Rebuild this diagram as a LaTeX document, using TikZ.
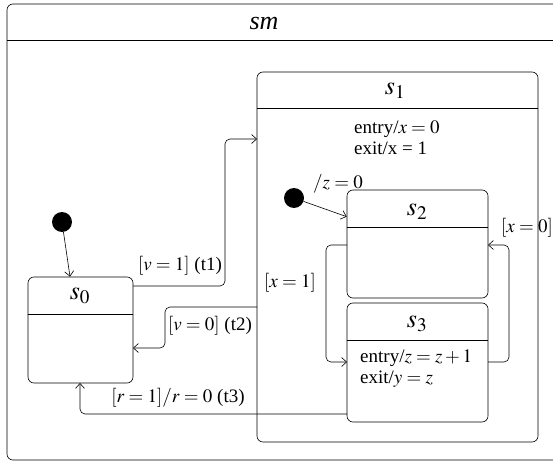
\documentclass[tikz,border=0pt]{standalone}
\usepackage{mathptmx}
\usepackage{fontspec}
\setmainfont{Liberation Serif}
\usetikzlibrary{calc,arrows.meta}
\begin{document}
\begin{tikzpicture}[x=1pt,y=-1pt,
  every node/.style={font=\fontsize{19}{21}\selectfont, inner sep=0pt},
  statebox/.style={draw, rounded corners=6pt, line width=0.6pt},
  sname/.style={font=\fontsize{26}{30}\selectfont},
  initdot/.style={circle, fill=black, minimum size=20pt},
  conn/.style={line width=0.6pt, rounded corners=5pt},
  tip/.style={-{Straight Barb[length=5pt,width=9pt]}}
]
\useasboundingbox (0,0) rectangle (553,462);
% outer state machine frame
\draw[line width=0.6pt, rounded corners=6pt] (553,4) -- (7,4) -- (7,460) -- (553,460);
\draw[line width=0.6pt] (7,40) -- (553,40);
\node[sname] (smname) at (264,24) {\textit{sm}};

% states
\node[statebox, minimum width=281pt, minimum height=370pt] (s1) at (397.5,257) {};
\draw[line width=0.6pt] ($(s1.north west)+(0,37)$) -- ($(s1.north east)+(0,37)$);
\node[sname] (s1n) at (395,91) {$s_1$};
\node[anchor=west, align=left] (s1a) at (354,137.5) {entry/$x=0$\\exit/x = 1};

\node[statebox, minimum width=141pt, minimum height=108pt] (s2) at (417.5,244) {};
\draw[line width=0.6pt] ($(s2.north west)+(0,38)$) -- ($(s2.north east)+(0,38)$);
\node[sname] (s2n) at (417,212) {$s_2$};

\node[statebox, minimum width=141pt, minimum height=119pt] (s3) at (417.5,362.5) {};
\draw[line width=0.6pt] ($(s3.north west)+(0,38)$) -- ($(s3.north east)+(0,38)$);
\node[sname] (s3n) at (417,324) {$s_3$};
\node[anchor=west, align=left] (s3a) at (360,369) {entry/$z=z+1$\\exit/$y=z$};

\node[statebox, minimum width=105pt, minimum height=106pt] (s0) at (80.5,330) {};
\draw[line width=0.6pt] ($(s0.north west)+(0,38)$) -- ($(s0.north east)+(0,38)$);
\node[sname] (s0n) at (80,296) {$s_0$};

% initial pseudostates
\node[initdot] (i0) at (62,222) {};
\node[initdot] (i1) at (294,198) {};
\node (z0) at (338,184) {$/z=0$};

\coordinate (i0t) at ($(s0.north)+(-10.5,0)$);
\draw[conn, tip] (i0) -- (i0t);
\coordinate (i1t) at ($(s2.north west)+(0,27)$);
\draw[conn, tip] (i1) -- (i1t);

% t1
\coordinate (t1a) at (133,286);
\coordinate (t1b) at (257,139);
\draw[conn, tip] (t1a) -- (225,286) -- (225,139) -- (t1b);
\node (t1l) at (180,266) {$[v=1]$ (t1)};

% t2
\coordinate (t2a) at (257,307);
\coordinate (t2b) at (133,348);
\draw[conn, tip] (t2a) -- (165,307) -- (165,348) -- (t2b);
\node (t2l) at (210,326) {$[v=0]$ (t2)};

% t3
\coordinate (t3a) at (347,414);
\coordinate (t3b) at (80,383);
\draw[conn, tip] (t3a) -- (80,414) -- (t3b);
\node (t3l) at (178,398) {$[r=1]/r=0$ (t3)};

% x=1
\coordinate (xa) at (347,245);
\coordinate (xb) at (347,362);
\draw[conn, tip] (xa) -- (326,245) -- (326,362) -- (xb);
\node (x1l) at (290,283) {$[x=1]$};

% x=0
\coordinate (ya) at (488,362);
\coordinate (yb) at (488,245);
\draw[conn, tip] (ya) -- (509,362) -- (509,245) -- (yb);
\node (x0l) at (527,228) {$[x=0]$};
\end{tikzpicture}
\end{document}
